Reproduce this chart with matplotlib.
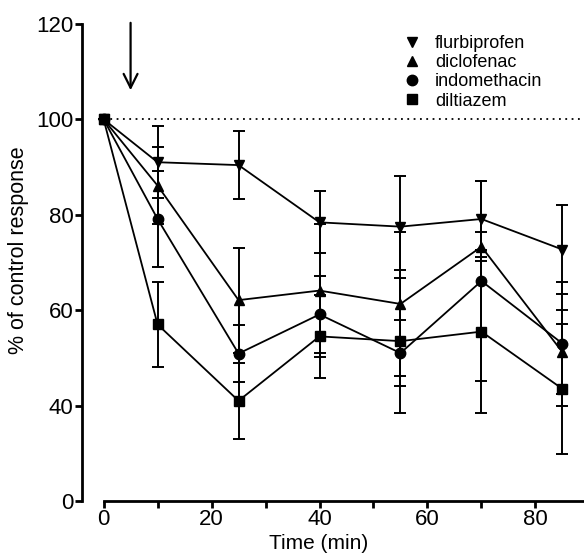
import matplotlib.pyplot as plt
from matplotlib.lines import Line2D

plt.rcParams['font.family'] = ['Liberation Sans', 'DejaVu Sans']

# data
time = [0, 10, 25, 40, 55, 70, 85]

flurbiprofen = [100, 91.0, 90.4, 78.4, 77.5, 79.1, 72.7]
flurbiprofen_err = [0, 7.6, 7.2, 6.5, 10.7, 8.0, 9.3]

diclofenac = [100, 86.1, 62.1, 64.1, 61.3, 73.3, 51.2]
diclofenac_err = [0, 8.0, 11.0, 14.0, 15.0, 3.0, 8.8]

indomethacin = [100, 79.1, 50.9, 59.1, 51.0, 66.1, 53.0]
indomethacin_err = [0, 10.0, 6.0, 8.0, 7.0, 21.0, 13.0]

diltiazem = [100, 57.0, 41.0, 54.5, 53.5, 55.5, 43.5]
diltiazem_err = [0, 9.0, 8.0, 8.7, 15.0, 17.0, 13.7]

# y axis: the bottom tick is a break, labelled 0
y_ticks = [20, 40, 60, 80, 100, 120]
y_labels = ['0', '40', '60', '80', '100', '120']
x_ticks = [0, 10, 20, 30, 40, 50, 60, 70, 80]
x_labels = ['0', '', '20', '', '40', '', '60', '', '80']

series = [
    ('flurbiprofen', flurbiprofen, flurbiprofen_err, 'v'),
    ('diclofenac', diclofenac, diclofenac_err, '^'),
    ('indomethacin', indomethacin, indomethacin_err, 'o'),
    ('diltiazem', diltiazem, diltiazem_err, 's'),
]

fig = plt.figure(figsize=(5.84, 5.56), dpi=100)
ax = fig.add_axes([82 / 584, 55 / 556, 1 - 82 / 584, 1 - 55 / 556])

x_right = 89
ax.set_xlim(-4, x_right)
ax.set_ylim(20, 125)

# dotted control line
ax.hlines(100, time[0], x_right, colors='black', linestyles=(0, (1, 2.5)), linewidth=1.3, zorder=1)

handles = []
for name, vals, err, mk in series:
    ax.errorbar(time, vals, yerr=err, color='black', marker=mk, markersize=7.5,
                linewidth=1.3, elinewidth=1.4, capsize=4, capthick=1.4, zorder=3)
    handles.append(Line2D([], [], color='black', marker=mk, linestyle='none', markersize=7.5))

# arrow marking drug application
ax.annotate('', xy=(5, 105.5), xytext=(5, 120.8),
            arrowprops=dict(arrowstyle='->,head_length=1.0,head_width=0.5', lw=1.6, color='black'))

ax.legend(handles, [s[0] for s in series], loc='upper left', bbox_to_anchor=(0.64, 0.93),
          frameon=False, fontsize=13, handlelength=1.0, handletextpad=0.75,
          labelspacing=0.12, borderpad=0, borderaxespad=0)

for side in ['top', 'right']:
    ax.spines[side].set_visible(False)
ax.spines['left'].set_linewidth(2)
ax.spines['bottom'].set_linewidth(2)
ax.spines['left'].set_bounds(20, 120)
ax.spines['bottom'].set_bounds(0, x_right)

ax.set_yticks(y_ticks)
ax.set_yticklabels(y_labels)
ax.set_xticks(x_ticks)
ax.set_xticklabels(x_labels)
ax.tick_params(direction='out', length=5, width=2, labelsize=16, pad=1)

ax.set_xlabel('Time (min)', fontsize=15, labelpad=0, va='top')
ax.set_ylabel('% of control response', fontsize=15.5, labelpad=5)
ax.xaxis.set_label_coords(0.472, -0.066)

fig.savefig('out.png', dpi=100)
